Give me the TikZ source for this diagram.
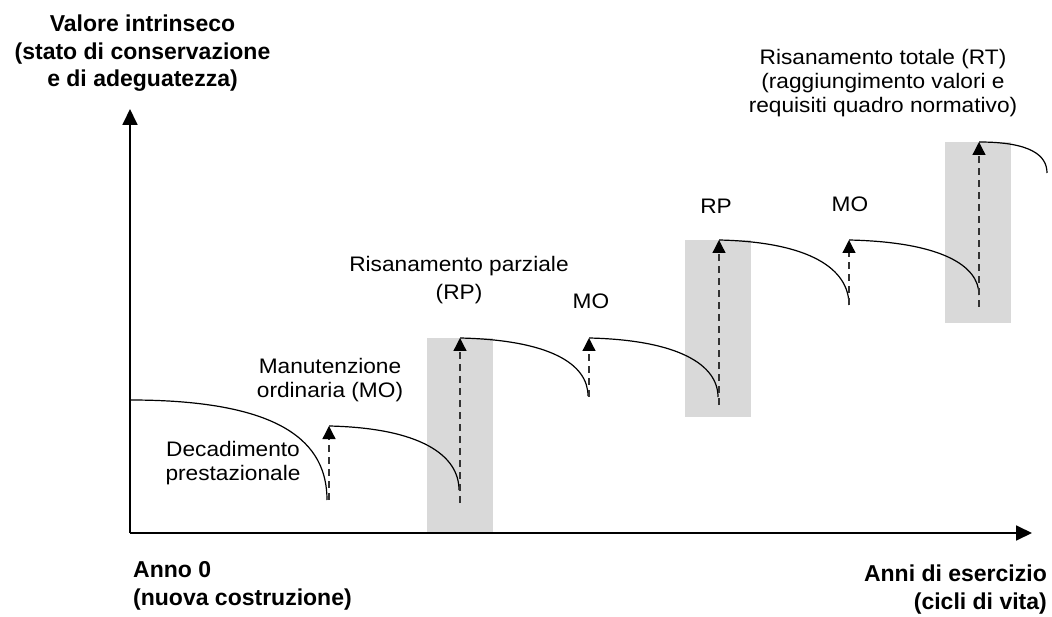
\documentclass[tikz,border=0pt]{standalone}
\usepackage{fontspec}
\setmainfont{Liberation Sans}
\newfontfamily\lblfont{Liberation Sans}[FakeStretch=1.08]
\usetikzlibrary{arrows.meta}
\begin{document}
\begin{tikzpicture}[x=1pt,y=-1pt,
  axis/.style={line width=1.8pt,-{Triangle[length=16pt,width=15pt]}},
  jump/.style={line width=1.3pt, dash pattern=on 7pt off 5pt, draw=black!80, -{Triangle[length=13pt,width=13pt,color=black]}},
  decay/.style={line width=1.2pt},
  band/.style={fill=black!15, draw=none, inner sep=0pt, minimum width=66pt},
  lbl/.style={font=\lblfont\fontsize{21}{24}\selectfont, align=center, inner sep=0pt, anchor=base},
  ttl/.style={font=\bfseries\fontsize{23}{27.5}\selectfont, inner sep=0pt},
]
\useasboundingbox (0,0) rectangle (1052,617);

% grey bands (renovations)
\node[band, minimum height=195pt] (b1) at (460,435.5) {};
\node[band, minimum height=177pt] (b2) at (718,328.5) {};
\node[band, minimum height=181pt] (b3) at (978,232.5) {};

% axes
\coordinate (o) at (130,533);
\coordinate (ytip) at (130,109);
\coordinate (xtip) at (1032,533);
\draw[axis] (o) -- (ytip);
\draw[axis] (o) -- (xtip);

% level points
\coordinate (s0) at (130,400);
\coordinate (e0) at (327,500);
\coordinate (j1) at (329,500); \coordinate (s1) at (329,426); \coordinate (e1) at (459,490);
\coordinate (j2) at (460,503); \coordinate (s2) at (460,338); \coordinate (e2) at (588,396);
\coordinate (j3) at (589,397); \coordinate (s3) at (589,338); \coordinate (e3) at (718,397);
\coordinate (j4) at (719,405); \coordinate (s4) at (719,240); \coordinate (e4) at (849,305);
\coordinate (j5) at (849,305); \coordinate (s5) at (849,240); \coordinate (e5) at (979,295);
\coordinate (j6) at (979,307); \coordinate (s6) at (979,142); \coordinate (e6) at (1047,173);

% decay curves
\draw[decay] (s0) .. controls (283,400) and (327,443) .. (e0);
\draw[decay] (s1) .. controls (420,428) and (459,455) .. (e1);
\draw[decay] (s2) .. controls (550,340) and (588,364) .. (e2);
\draw[decay] (s3) .. controls (679,340) and (718,365) .. (e3);
\draw[decay] (s4) .. controls (810,242) and (849,269) .. (e4);
\draw[decay] (s5) .. controls (940,242) and (979,265) .. (e5);
\draw[decay] (s6) .. controls (1030,142) and (1047,155) .. (e6);

% interventions
\draw[jump] (j1) -- (s1);
\draw[jump] (j2) -- (s2);
\draw[jump] (j3) -- (s3);
\draw[jump] (j4) -- (s4);
\draw[jump] (j5) -- (s5);
\draw[jump] (j6) -- (s6);

% axis labels (anchor base = baseline of the last line)
\node[ttl, align=center, anchor=base] (ylab) at (142.5,87) {Valore intrinseco\\(stato di conservazione\\e di adeguatezza)};
\node[ttl, align=left, anchor=base west] (x0lab) at (133,605) {Anno 0\\(nuova costruzione)};
\node[ttl, align=right, anchor=base east] (xlab) at (1047,609) {Anni di esercizio\\(cicli di vita)};

% curve labels
\node[lbl] (ldec) at (233,480) {Decadimento\\prestazionale};
\node[lbl] (lmo1) at (330,397) {Manutenzione\\ordinaria (MO)};
\node[lbl] (lrp1) at (459,300) {Risanamento parziale\\[4pt](RP)};
\node[lbl] (lmo2) at (591,308.3) {MO};
\node[lbl] (lrp2) at (716,214) {RP};
\node[lbl] (lmo3) at (850,211.7) {MO};
\node[lbl] (lrt) at (883,113) {Risanamento totale (RT)\\(raggiungimento valori e\\requisiti quadro normativo)};
\end{tikzpicture}
\end{document}
